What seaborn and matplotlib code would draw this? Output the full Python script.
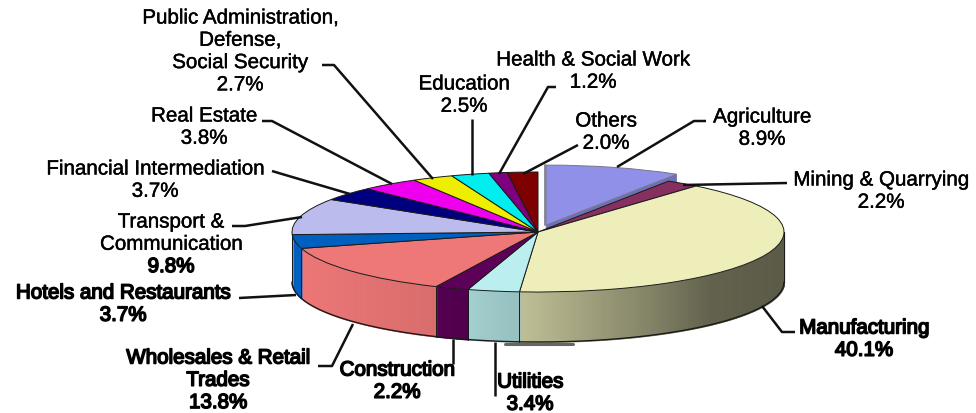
import numpy as np
import matplotlib
matplotlib.use('Agg')
import matplotlib.pyplot as plt
import matplotlib.patheffects as pe
import seaborn as sns

sectors = ['Agriculture', 'Mining & Quarrying', 'Manufacturing', 'Utilities', 'Construction',
           'Wholesales & Retail\nTrades', 'Hotels and Restaurants', 'Transport &\nCommunication',
           'Financial Intermediation', 'Real Estate', 'Public Administration,\nDefense,\nSocial Security',
           'Education', 'Health & Social Work', 'Others']
shares = [8.9, 2.2, 40.1, 3.4, 2.2, 13.8, 3.7, 9.8, 3.7, 3.8, 2.7, 2.5, 1.2, 2.0]
colors = ['#9090e8', '#873060', '#eeeebb', '#bbeeee', '#5c0058', '#ee7777', '#0060c0',
          '#bbbbee', '#00007f', '#ee00ee', '#eeee00', '#00eeee', '#7f007f', '#7f0000']
explode = [0.12] + [0] * 13

# pixel layout of the flattened pie
W, H = 976, 414
CX, CY, A, B, DEPTH = 538, 233, 246, 60, 50

# label centre x, first line y (pixels), bold or not
label_pos = [(762, 118, False), (881, 181, False), (864, 329, True), (530, 383, True), (397, 371, True),
             (218, 359, True), (123, 294, True), (171, 223, False), (155, 170, False), (204, 117, False),
             (240, 19, False), (464, 85, False), (593, 61, False), (606, 122, False)]
leaders = [[(617, 168), (694, 122), (706, 122)],
           [(683, 186), (787, 184)],
           [(762, 307), (782, 333), (795, 333)],
           [(495, 343), (495, 397)],
           [(453, 340), (453, 365)],
           [(353, 325), (332, 367), (318, 367)],
           [(296, 296), (239, 299)],
           [(302, 218), (245, 227), (232, 227)],
           [(350, 195), (282, 175), (272, 172)],
           [(392, 185), (272, 122), (262, 122)],
           [(433, 180), (334, 66), (322, 66)],
           [(472, 176), (472, 120)],
           [(499, 175), (548, 88), (556, 88)],
           [(523, 175), (578, 146)]]

sns.set_theme(style='white')
plt.rcParams['font.family'] = ['Liberation Sans', 'DejaVu Sans']


def px(x, y):
    return (x - CX) / A, (CY - y) / B


fig = plt.figure(figsize=(W / 100, H / 100), dpi=100)
ax = fig.add_axes([0, 0, 1, 1])
palette = sns.color_palette(colors)

wedges, _ = ax.pie(shares, explode=explode, colors=palette, startangle=90, counterclock=False, radius=1,
                   wedgeprops={'edgecolor': '#1a1a1a', 'linewidth': 0.7, 'zorder': 3})
wedges[0].set_edgecolor('#77778a')
ax.set_aspect('auto')
ax.set_xlim(-CX / A, (W - CX) / A)
ax.set_ylim((CY - H) / B, CY / B)
ax.axis('off')

# side wall of the pie, light on the left and dark on the right
edges = np.radians(np.concatenate([[0], np.cumsum(shares)]) * 3.6)
d = DEPTH / B
for i in range(len(shares)):
    lo, hi = max(edges[i], np.pi / 2), min(edges[i + 1], 1.5 * np.pi)
    if hi <= lo:
        continue
    t = np.linspace(lo, hi, max(2, int((hi - lo) * 90)))
    for t0, t1 in zip(t[:-1], t[1:]):
        x = np.array([np.sin(t0), np.sin(t1)])
        y = np.array([np.cos(t0), np.cos(t1)])
        shade = np.interp(x.mean(), [-1, -0.41, -0.07, 0.45, 0.7, 1], [1, 0.91, 0.8, 0.55, 0.41, 0.38])
        c = np.array(palette[i]) * shade
        ax.fill_between(x, y, y - d, color=c, lw=0.8, antialiased=False, zorder=1)
    x = np.sin(t)
    y = np.cos(t)
    ax.plot(x, y - d, color='#1a1a1a', lw=1.0, zorder=2)
    ax.plot([x[0], x[0]], [y[0], y[0] - d], color='#1a1a1a', lw=0.7, zorder=2)
ax.plot([-1, -1], [0, -d], color='#1a1a1a', lw=0.7, zorder=2)
ax.plot([1, 1], [0, -d], color='#1a1a1a', lw=0.7, zorder=2)

# cut face of the pulled out slice
w = wedges[0]
ox, oy = w.center
tip = np.radians(shares[0] * 3.6)
ax.fill([ox, ox + np.sin(tip), ox + np.sin(tip), ox], [oy, oy + np.cos(tip), oy + np.cos(tip) - d, oy - d],
        color='#6f6fb4', lw=0.5, zorder=1.5)
ax.plot([ox - 0.006, ox - 0.006], [oy, oy + 1], color='#8a8a9a', lw=1.4, zorder=1.5)

# grey smudge under the front of the pie
sx, sy = zip(px(505, 344.5), px(573, 344.5))
ax.plot(sx, sy, color='#666666', lw=2.2, zorder=0.5)

# leader lines
for pts in leaders:
    xy = np.array([px(*p) for p in pts])
    ax.plot(xy[:, 0], xy[:, 1], color='#111111', lw=1.8, zorder=4, solid_capstyle='butt')

# labels
for name, share, (lx, ly, bold) in zip(sectors, shares, label_pos):
    lines = name.split('\n') + [f'{share:.1f}%']
    for j, line in enumerate(lines):
        heavy = bold or (name.startswith('Transport') and j == 2)
        tx, ty = px(lx, ly + j * 22.3)
        ax.text(tx, ty, line, ha='center', va='center', fontsize=14.8, color='black',
                path_effects=[pe.withStroke(linewidth=1.1 if heavy else 0.3, foreground='black')], zorder=5)

fig.savefig('out.png', dpi=100, facecolor='white')
